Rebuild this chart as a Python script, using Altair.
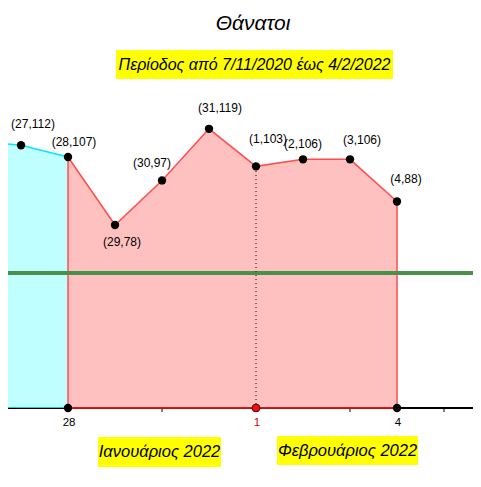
import altair as alt
import pandas as pd

# ---- data ----
jan_days = [26, 27, 28, 29, 30, 31]
jan_deaths = [114, 112, 107, 78, 97, 119]
feb_days = [1, 2, 3, 4]
feb_deaths = [103, 106, 106, 88]
avg_deaths = 57.5

title_text = "Θάνατοι"
subtitle_text = "Περίοδος από 7/11/2020 έως 4/2/2022"
month_labels = ["Ιανουάριος 2022", "Φεβρουάριος 2022"]
tick_positions = [28, 30, 32, 34, 36]          # 28 Jan .. 5 Feb on a running day index
axis_label_pos = [28, 32, 35]
axis_label_text = ["28", "1", "4"]

# layout (pixel offsets of the point labels, in point order from 27 Jan)
label_dx = [12, 6, 7, -10, 11, 12, 0, 12, 9]
label_dy = [-21, -15, 17, -17, -21, -27, -15, -19, -23]

rows = []
for d, v in zip(jan_days, jan_deaths):
    rows.append({"day": d, "deaths": v, "t": d, "label": f"({d},{v})"})
for d, v in zip(feb_days, feb_deaths):
    rows.append({"day": d, "deaths": v, "t": 31 + d, "label": f"({d},{v})"})
df = pd.DataFrame(rows)
df["zero"] = 0

W, H = 465, 400
FONT = "Liberation Sans"
xs = alt.Scale(domain=[26.723, 36.617], nice=False, zero=False)
ys = alt.Scale(domain=[0, 170.5], nice=False, zero=False)

X = lambda f="t": alt.X(f, type="quantitative", scale=xs, axis=None)
Y = lambda f="deaths": alt.Y(f, type="quantitative", scale=ys, axis=None)

cyan = df[df.t <= 28]
pink = df[df.t >= 28]
shown = df[df.t >= 27].reset_index(drop=True)

# axis line, ticks, labels
axis_line = alt.Chart(df).mark_rule(color="black", strokeWidth=1.3).encode(
    y=alt.Y(datum=0, type="quantitative", scale=ys, axis=None),
    x=alt.value(0), x2=alt.value(W))
ticks_df = pd.DataFrame({"t": tick_positions})
ticks = alt.Chart(ticks_df).mark_rule(color="black", strokeWidth=1).encode(
    x=X(), y=alt.value(H), y2=alt.value(H + 4))
alab_df = pd.DataFrame({"t": axis_label_pos, "txt": axis_label_text})
alab = alt.Chart(alab_df).mark_text(font=FONT, fontSize=11.5, baseline="middle", dy=15, dx=1).encode(
    x=X(), y=alt.value(H), text="txt",
    color=alt.condition(alt.datum.txt == "1", alt.value("#e00000"), alt.value("black")))

cyan_area = alt.Chart(cyan).mark_area(color="#c0ffff", opacity=1, clip=True).encode(x=X(), y=Y())
cyan_line = alt.Chart(cyan).mark_line(color="#00e8ff", strokeWidth=1.5, clip=True).encode(x=X(), y=Y())
cyan_base = alt.Chart(cyan).mark_line(color="#00b0b0", strokeWidth=1.5, clip=True).encode(x=X(), y=Y("zero"))
pink_area = alt.Chart(pink).mark_area(fill="#ffc0c0", stroke="#ff4d4d", strokeWidth=1.5,
                                      opacity=1, fillOpacity=1).encode(x=X(), y=Y())
pink_base = alt.Chart(pink).mark_line(color="#cc0000", strokeWidth=1.5).encode(x=X(), y=Y("zero"))
avg_rule = alt.Chart(df).mark_rule(color="#4a8f4a", strokeWidth=3).encode(
    y=alt.Y(datum=avg_deaths, type="quantitative", scale=ys, axis=None),
    x=alt.value(0), x2=alt.value(W))
dotted = alt.Chart(df[df.t == 32]).mark_rule(color="#333333", strokeDash=[1, 3], strokeWidth=1.3).encode(
    x=X(), y=Y("zero"), y2="deaths")

pts = alt.Chart(shown).mark_circle(color="black", size=70, opacity=1).encode(x=X(), y=Y())
base_ends = pd.concat([df[df.t == 28], df[df.t == 35]])
base_pts = alt.Chart(base_ends).mark_circle(color="black", size=70, opacity=1).encode(x=X(), y=Y("zero"))
red_pt = alt.Chart(df[df.t == 32]).mark_point(filled=True, fill="#ee1111", stroke="#550000",
                                              strokeWidth=1, size=60, opacity=1).encode(x=X(), y=Y("zero"))

labels = []
for i in range(len(shown)):
    labels.append(
        alt.Chart(shown.iloc[[i]]).mark_text(font=FONT, fontSize=12, color="black",
                                            dx=label_dx[i], dy=label_dy[i], baseline="middle")
        .encode(x=X(), y=Y(), text="label")
    )

one = pd.DataFrame({"k": [0]})
title = alt.Chart(one).mark_text(text=title_text, font=FONT, fontSize=21, fontStyle="italic",
                                 color="black", baseline="middle").encode(
    x=alt.value(245), y=alt.value(16))
sub_box = alt.Chart(one).mark_rect(color="#ffff00").encode(
    x=alt.value(108), x2=alt.value(385), y=alt.value(42), y2=alt.value(71))
sub_txt = alt.Chart(one).mark_text(text=subtitle_text, font=FONT, fontSize=16, fontStyle="italic",
                                   color="black", baseline="middle").encode(
    x=alt.value(246.5), y=alt.value(56.5))
jan_box = alt.Chart(one).mark_rect(color="#ffff00").encode(
    x=alt.value(90), x2=alt.value(213), y=alt.value(429), y2=alt.value(459))
jan_txt = alt.Chart(one).mark_text(text=month_labels[0], font=FONT, fontSize=16.5, fontStyle="italic",
                                   color="black", baseline="middle").encode(
    x=alt.value(151.5), y=alt.value(444))
feb_box = alt.Chart(one).mark_rect(color="#ffff00").encode(
    x=alt.value(269), x2=alt.value(410), y=alt.value(428), y2=alt.value(457))
feb_txt = alt.Chart(one).mark_text(text=month_labels[1], font=FONT, fontSize=16.5, fontStyle="italic",
                                   color="black", baseline="middle").encode(
    x=alt.value(339.5), y=alt.value(442.5))

chart = alt.layer(
    axis_line, ticks, cyan_area, pink_area, cyan_line, cyan_base, pink_base, avg_rule, dotted,
    pts, base_pts, red_pt, alab, *labels,
    title, sub_box, sub_txt, jan_box, jan_txt, feb_box, feb_txt,
).properties(width=W, height=H, autosize=alt.AutoSizeParams(type="none"),
             padding={"left": 0, "top": 0, "right": 0, "bottom": 71}
).configure_view(stroke=None)

chart.save("out.html", embed_options={"renderer": "svg", "actions": False})
